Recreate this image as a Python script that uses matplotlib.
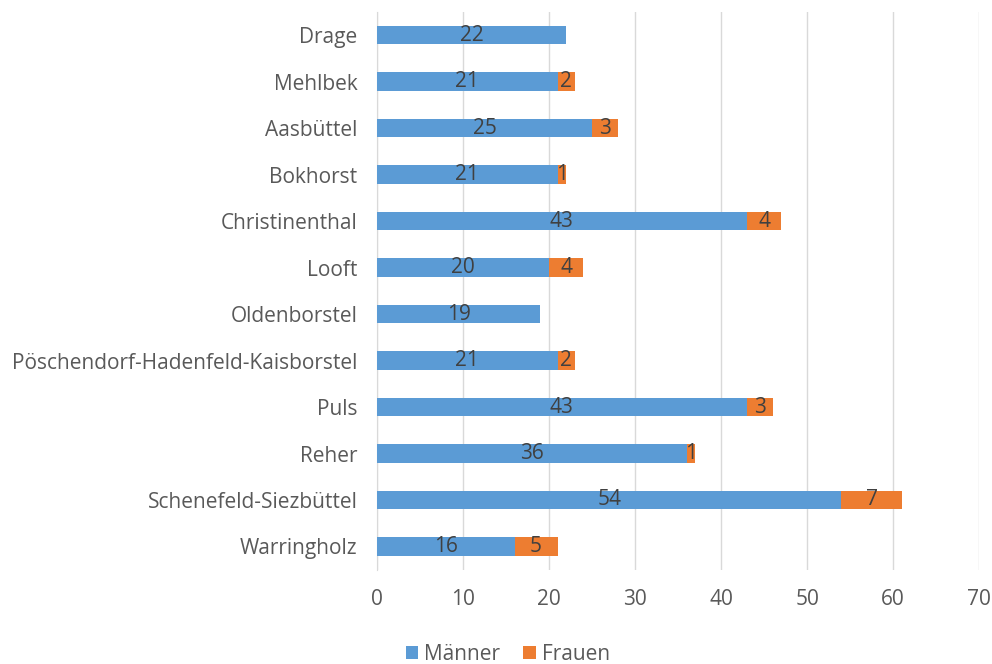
import matplotlib
matplotlib.use("Agg")
import matplotlib.pyplot as plt
import numpy as np

categories = ["Drage", "Mehlbek", "Aasbüttel", "Bokhorst", "Christinenthal", "Looft",
              "Oldenborstel", "Pöschendorf-Hadenfeld-Kaisborstel", "Puls", "Reher",
              "Schenefeld-Siezbüttel", "Warringholz"]
maenner = [22, 21, 25, 21, 43, 20, 19, 21, 43, 36, 54, 16]
frauen = [0, 2, 3, 1, 4, 4, 0, 2, 3, 1, 7, 5]
xticks = [0, 10, 20, 30, 40, 50, 60, 70]

plt.rcParams['font.family'] = ['Open Sans', 'DejaVu Sans']
blue = "#5B9BD5"
orange = "#ED7D31"
txt = "#595959"
fs = 15

fig = plt.figure(figsize=(9.92, 6.64), dpi=100)
ax = fig.add_axes([0.380, 0.142, 0.607, 0.840])

y = np.arange(len(categories))
b1 = ax.barh(y, maenner, height=0.4, color=blue, label="Männer", zorder=3)
b2 = ax.barh(y, frauen, left=maenner, height=0.4, color=orange, label="Frauen", zorder=3)

for i, (m, f) in enumerate(zip(maenner, frauen)):
    if m:
        ax.text(m / 2, i, str(m), ha="center", va="center", fontsize=fs, color="#404040", zorder=4)
    if f:
        ax.text(m + f / 2, i, str(f), ha="center", va="center", fontsize=fs, color="#404040", zorder=4)

ax.set_ylim(len(categories) - 0.5, -0.5)
ax.set_xlim(0, 70)
ax.set_xticks(xticks)
ax.set_xticklabels([str(t) for t in xticks], fontsize=fs, color=txt)
ax.set_yticks(y)
ax.set_yticklabels(categories, fontsize=fs, color=txt)
ax.tick_params(axis="both", length=0)
ax.tick_params(axis="x", pad=14)
ax.tick_params(axis="y", pad=14)
ax.grid(axis="x", color="#D9D9D9", linewidth=1, zorder=0)
for s in ["top", "right", "bottom"]:
    ax.spines[s].set_visible(False)
ax.spines["left"].set_color("#D9D9D9")

leg = fig.legend(handles=[b1, b2], labels=["Männer", "Frauen"], loc="center",
                 bbox_to_anchor=(0.512, 0.015), ncol=2, frameon=False, fontsize=fs,
                 handlelength=0.6, handleheight=0.6, handletextpad=0.3, columnspacing=1.1)
for t in leg.get_texts():
    t.set_color(txt)

fig.savefig("out.png", dpi=100)
